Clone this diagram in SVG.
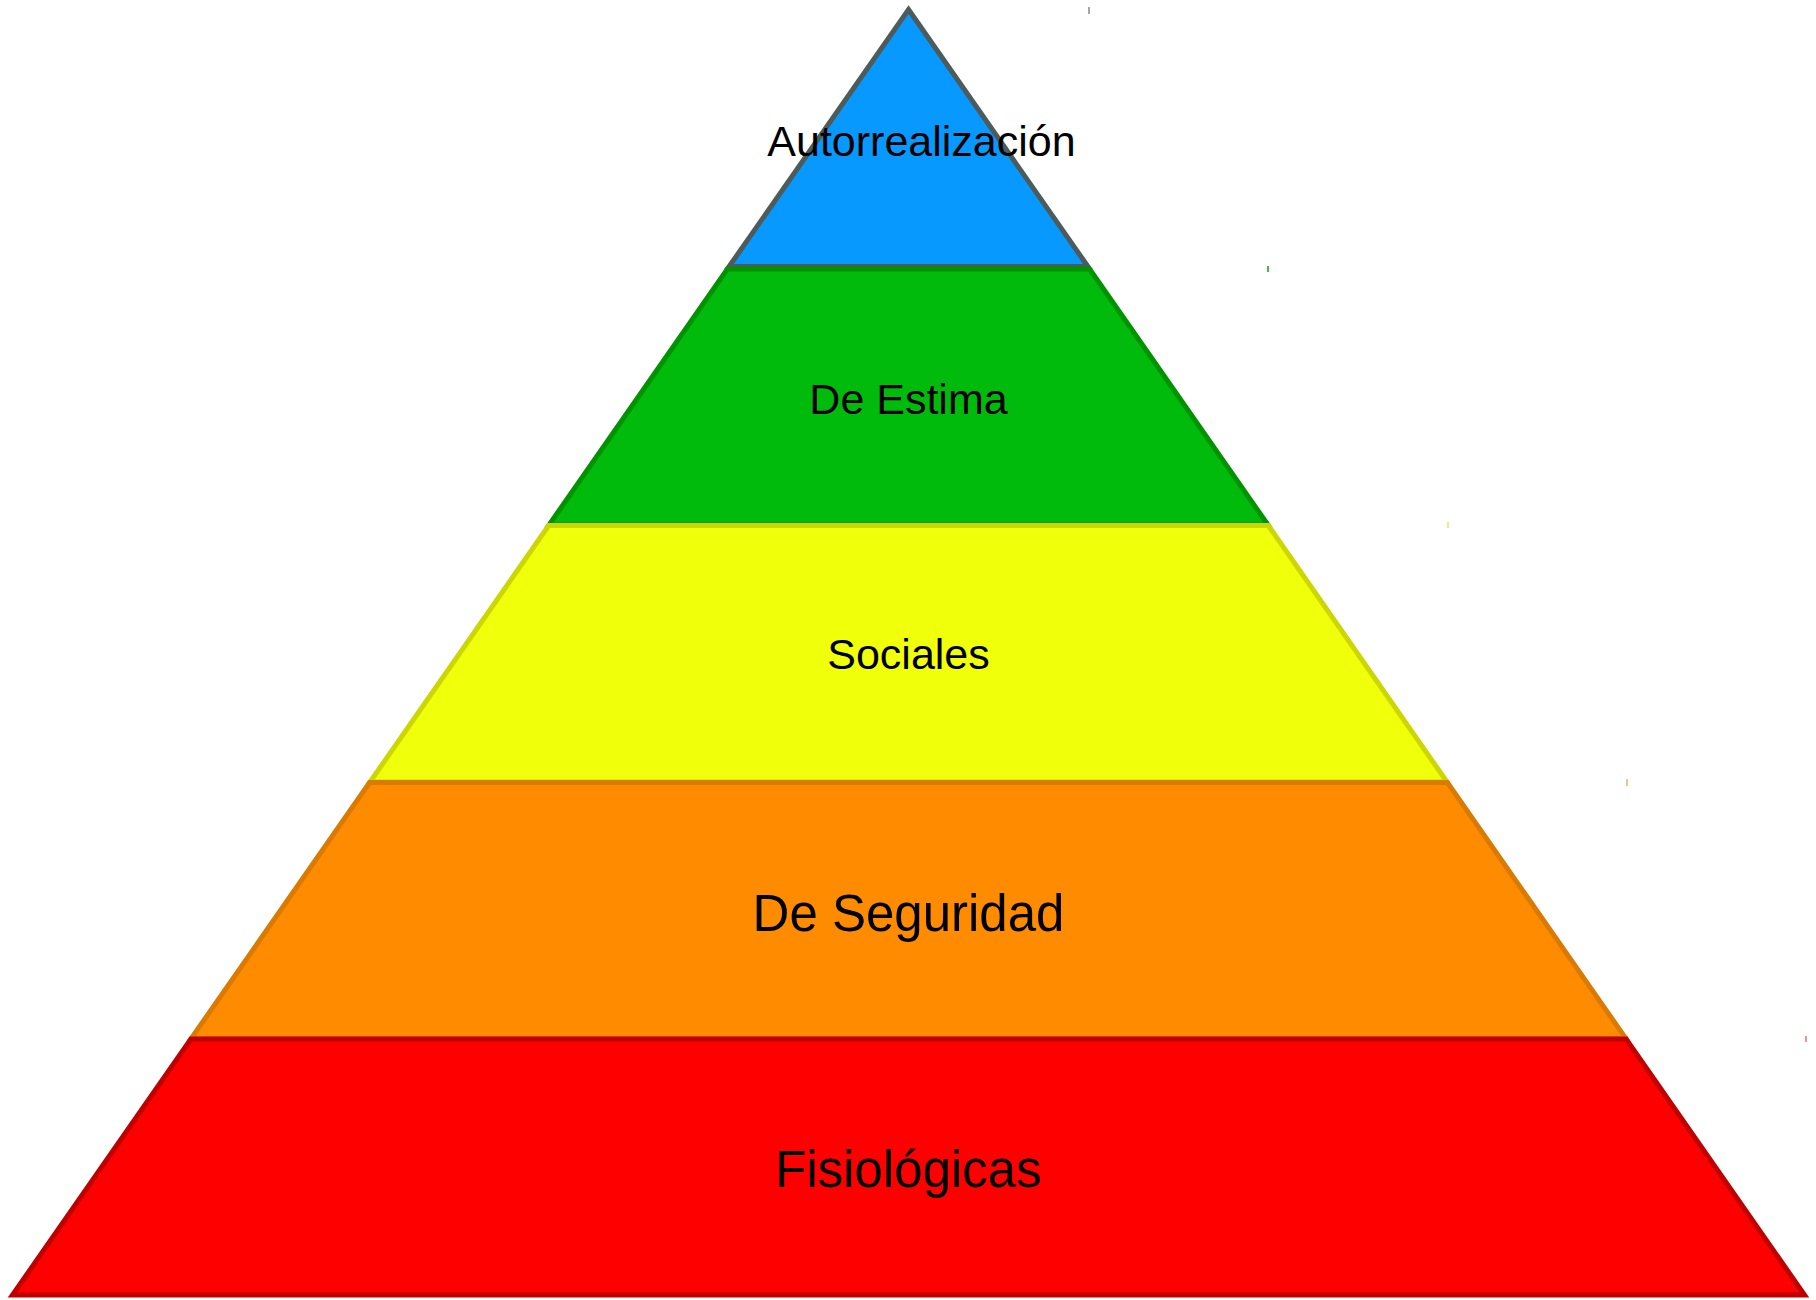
<svg xmlns="http://www.w3.org/2000/svg" width="1816" height="1300" viewBox="0 0 1816 1300">
<style>
.lvl{stroke-width:5;stroke-linejoin:miter}
.lbl{font-family:"Liberation Sans",Arial,sans-serif;fill:#000;text-anchor:middle}
.tick{stroke-width:1.5}
</style>
<rect width="1816" height="1300" fill="#fff"/>
<g id="autorrealizacion">
<polygon class="lvl" points="908.5,9.5 1087.9,266.5 729.1,266.5" fill="#0899ff" stroke="#4d5b5b"/>
<text class="lbl" x="921.5" y="156" font-size="43">Autorrealización</text>
</g>
<g id="estima">
<polygon class="lvl" points="727.4,269 1089.6,269 1268,525 549,525" fill="#00bb0c" stroke="#009300"/>
<text class="lbl" x="908.5" y="414" font-size="43">De Estima</text>
</g>
<g id="sociales">
<polygon class="lvl" points="548.7,525.5 1268.3,525.5 1447,782 370,782" fill="#f0ff0a" stroke="#ccd600"/>
<text class="lbl" x="908.5" y="669" font-size="43">Sociales</text>
</g>
<g id="seguridad">
<polygon class="lvl" points="369.6,782.5 1447.4,782.5 1625.8,1038.5 191.2,1038.5" fill="#ff8c00" stroke="#db7a00"/>
<text class="lbl" x="908.5" y="931" font-size="51">De Seguridad</text>
</g>
<g id="fisiologicas">
<polygon class="lvl" points="190.9,1039 1626.1,1039 1804.5,1295 12.5,1295" fill="#ff0000" stroke="#c00000"/>
<text class="lbl" x="908.5" y="1187" font-size="51">Fisiológicas</text>
</g>
<g id="connectors">
<line class="tick" x1="1089" y1="7" x2="1089" y2="14" stroke="#888"/>
<line class="tick" x1="1268" y1="266" x2="1268" y2="272" stroke="#00aa00"/>
<line class="tick" x1="1448" y1="522" x2="1448" y2="528" stroke="#e6e650"/>
<line class="tick" x1="1627" y1="779" x2="1627" y2="786" stroke="#f0b060"/>
<line class="tick" x1="1806" y1="1036" x2="1806" y2="1042" stroke="#e07070"/>
</g>
</svg>
